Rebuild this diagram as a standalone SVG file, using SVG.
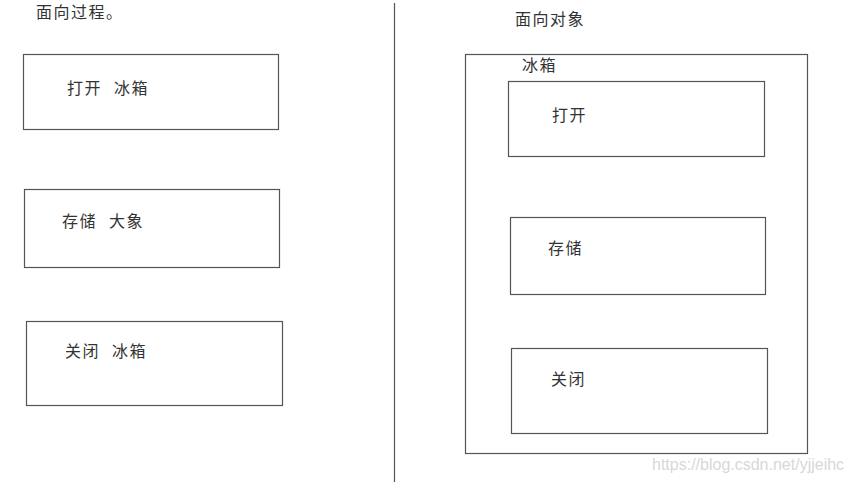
<svg xmlns="http://www.w3.org/2000/svg" width="852" height="482" viewBox="0 0 852 482">
<style>
.box{fill:none;stroke:#555;stroke-width:1.2}
.t{font-family:"Liberation Sans","Noto Sans CJK SC",sans-serif;font-size:16px;fill:#333;letter-spacing:1.5px;white-space:pre}
.wm{font-family:"Liberation Sans",sans-serif;font-size:16px;fill:#d8d8d8}
</style>
<rect width="852" height="482" fill="#fff"/>
<g id="divider"><line x1="394.5" y1="3" x2="394.5" y2="482" stroke="#555" stroke-width="1.2"/></g>
<text class="t" x="36" y="18">面向过程。</text>
<text class="t" x="515" y="25">面向对象</text>
<g id="proc-open"><rect class="box" x="23.5" y="54.5" width="255" height="75"/><text class="t" x="67" y="94" xml:space="preserve">打开  冰箱</text></g>
<g id="proc-store"><rect class="box" x="24.5" y="189.5" width="255" height="78"/><text class="t" x="62" y="227" xml:space="preserve">存储  大象</text></g>
<g id="proc-close"><rect class="box" x="26.5" y="321.5" width="256" height="84"/><text class="t" x="65" y="357" xml:space="preserve">关闭  冰箱</text></g>
<g id="fridge"><rect class="box" x="465.5" y="54.5" width="342" height="399"/><text class="t" x="522" y="71">冰箱</text></g>
<g id="obj-open"><rect class="box" x="508.5" y="81.5" width="256" height="75"/><text class="t" x="552" y="121">打开</text></g>
<g id="obj-store"><rect class="box" x="510.5" y="217.5" width="255" height="77"/><text class="t" x="548" y="254">存储</text></g>
<g id="obj-close"><rect class="box" x="511.5" y="348.5" width="256" height="85"/><text class="t" x="551" y="385">关闭</text></g>
<g id="connectors"></g>
<text class="wm" x="652" y="470">https://blog.csdn.net/yjjeihc</text>
</svg>
